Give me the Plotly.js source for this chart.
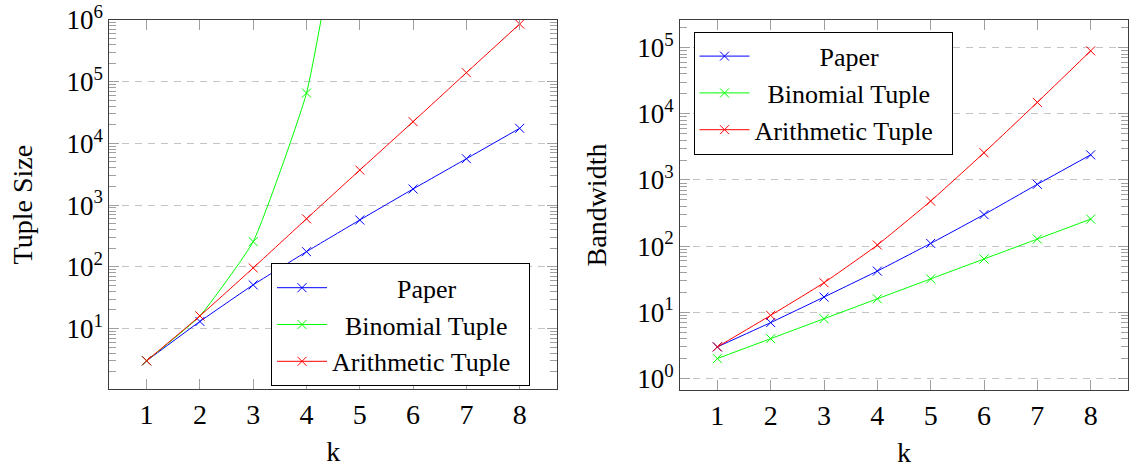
<!DOCTYPE html>
<html><head><meta charset="utf-8">
<script src="https://cdn.plot.ly/plotly-3.0.1.min.js"></script>
<style>html,body{margin:0;padding:0;background:#fff}</style>
</head><body><div id="chart" style="width:1129px;height:469px"></div>
<script>
// ---- data ----
const k = [1, 2, 3, 4, 5, 6, 7, 8];
const seriesNames = ['Paper', 'Binomial Tuple', 'Arithmetic Tuple'];
const seriesColors = ['#0000ff', '#00ff00', '#ff0000'];

// left panel: Tuple Size
const sizePaper = [3, 13, 51, 176, 574, 1824, 5650, 17550];
const sizeBinomial = [3, 16, 256, 65536, 4294967296];
const sizeArithmetic = [3, 16, 96, 600, 3700, 22500, 140000, 860000];

// right panel: Bandwidth
const bwPaper = [3, 7, 17, 42, 110, 300, 860, 2400];
const bwBinomial = [2, 4, 8, 16, 32, 64, 128, 256];
const bwArithmetic = [3, 9, 28, 104, 480, 2580, 14900, 89500];

const sizeTickVals = [1e1, 1e2, 1e3, 1e4, 1e5, 1e6];
const sizeTickText = ['10<sup>1</sup>', '10<sup>2</sup>', '10<sup>3</sup>', '10<sup>4</sup>', '10<sup>5</sup>', '10<sup>6</sup>'];
const bwTickVals = [1e0, 1e1, 1e2, 1e3, 1e4, 1e5];
const bwTickText = ['10<sup>0</sup>', '10<sup>1</sup>', '10<sup>2</sup>', '10<sup>3</sup>', '10<sup>4</sup>', '10<sup>5</sup>'];

// ---- helpers ----
const FONT = 'Liberation Serif';
function minorVals(lo, hi) {
  const out = [];
  for (let e = lo; e <= hi; e++) for (let m = 2; m <= 9; m++) out.push(m * Math.pow(10, e));
  return out;
}
function padName(i) {
  // centre legend labels like the original (cell align=center)
  const pads = [10, 2, 0];
  return '\u00a0'.repeat(pads[i]) + seriesNames[i] + '\u00a0\u00a0';
}
function trace(x, y, i, xa, ya, leg) {
  return {
    x: x.slice(0, y.length), y: y, type: 'scatter', mode: 'lines+markers',
    name: padName(i), xaxis: xa, yaxis: ya, legend: leg,
    line: {color: seriesColors[i], width: 1, shape: 'spline', smoothing: 0.4},
    marker: {symbol: 'x-thin', size: 9, color: seriesColors[i], line: {color: seriesColors[i], width: 1}}
  };
}

const data = [
  trace(k, sizePaper, 0, 'x', 'y', 'legend'),
  trace(k, sizeBinomial, 1, 'x', 'y', 'legend'),
  trace(k, sizeArithmetic, 2, 'x', 'y', 'legend'),
  trace(k, bwPaper, 0, 'x2', 'y2', 'legend2'),
  trace(k, bwBinomial, 1, 'x2', 'y2', 'legend2'),
  trace(k, bwArithmetic, 2, 'x2', 'y2', 'legend2')
];

const W = 1129, H = 469;
function xaxisDef(x0, x1, anchor) {
  return {
    domain: [x0 / W, x1 / W], anchor: anchor, range: [0.3, 8.7],
    tickvals: k, ticks: 'inside', ticklen: 10, tickcolor: '#a0a0a0', tickwidth: 1,
    showline: true, linecolor: '#3c3c3c', linewidth: 1, mirror: 'allticks',
    showgrid: false, zeroline: false, automargin: false,
    tickfont: {family: FONT, size: 28, color: '#000'},
    title: {text: 'k', font: {family: FONT, size: 28, color: '#000'}, standoff: 12}
  };
}
function yaxisDef(y0, y1, anchor, range, tv, tt, lo, hi, title, standoff) {
  return {
    type: 'log', domain: [(H - y1) / H, (H - y0) / H], anchor: anchor, range: range,
    tickvals: tv, ticktext: tt, ticks: 'inside', ticklen: 10, tickcolor: '#a0a0a0', tickwidth: 1,
    showline: true, linecolor: '#3c3c3c', linewidth: 1, mirror: 'allticks',
    showgrid: true, gridcolor: '#c4c4c4', gridwidth: 1, griddash: '7px,6px', zeroline: false,
    automargin: false,
    minor: {tickvals: minorVals(lo, hi), ticks: 'inside', ticklen: 7, tickcolor: '#a0a0a0', tickwidth: 1, showgrid: false},
    tickfont: {family: FONT, size: 27, color: '#000'},
    title: {text: title, font: {family: FONT, size: 28, color: '#000'}, standoff: standoff}
  };
}

const legendBase = {
  xanchor: 'left', yanchor: 'top', bgcolor: '#fff', bordercolor: '#000', borderwidth: 1,
  font: {family: FONT, size: 26, color: '#000'}, tracegroupgap: 0, itemwidth: 50
};

const layout = {
  width: W, height: H, margin: {l: 0, r: 0, t: 0, b: 0},
  paper_bgcolor: '#fff', plot_bgcolor: '#fff',
  font: {family: FONT, size: 28, color: '#000'},
  showlegend: true,
  xaxis: xaxisDef(109.3, 557, 'y'),
  yaxis: yaxisDef(20, 389.3, 'x', [0.015, 6], sizeTickVals, sizeTickText, 0, 5, 'Tuple Size', 25),
  xaxis2: xaxisDef(680, 1128, 'y2'),
  yaxis2: yaxisDef(20, 390, 'x2', [-0.174, 5.418], bwTickVals, bwTickText, 0, 5, 'Bandwidth', 22),
  legend: Object.assign({x: 271 / W, y: (H - 263.3) / H}, legendBase),
  legend2: Object.assign({x: 693.5 / W, y: (H - 31.7) / H}, legendBase)
};

Plotly.newPlot('chart', data, layout, {staticPlot: true, displayModeBar: false});
</script>
</body></html>
